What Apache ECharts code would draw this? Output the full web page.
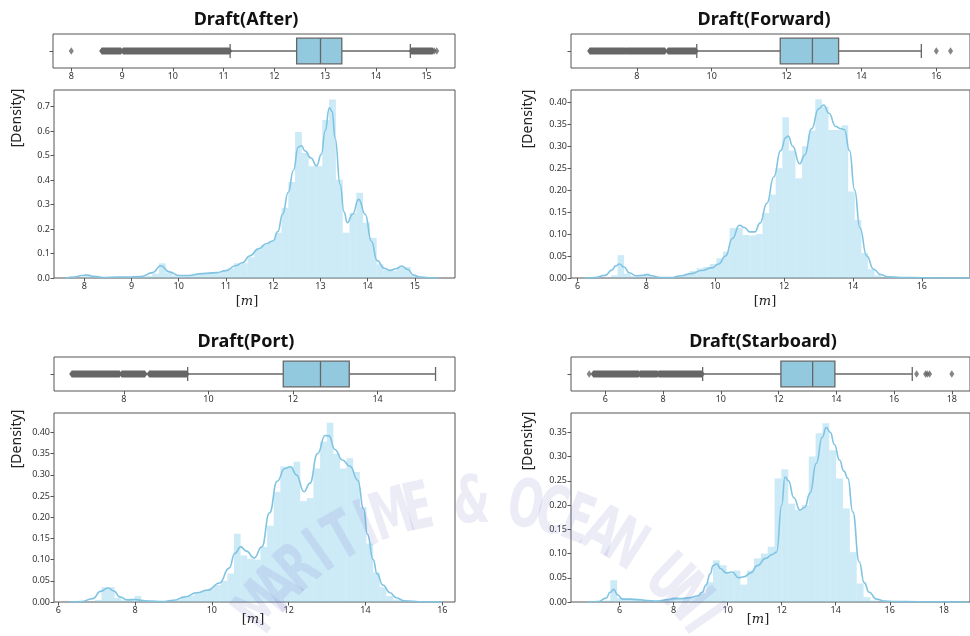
<!DOCTYPE html>
<html>
<head>
<meta charset="utf-8">
<script src="https://cdn.jsdelivr.net/npm/echarts@6/dist/echarts.min.js"></script>
<style>
  html, body { margin: 0; padding: 0; background: #fff; }
  #chart { width: 970px; height: 636px; }
</style>
</head>
<body>
<div id="chart"></div>
<script>
// ---------------- Draft(After) ----------------
const afterBinStart = 8.0;
const afterBinWidth = 0.144;
const afterDensity = [0.015, 0.003, 0.001, 0.001, 0.002, 0.004, 0.005, 0.003, 0.005, 0.008,
  0.018, 0.060, 0.022, 0.010, 0.008, 0.010, 0.015, 0.020, 0.020, 0.022,
  0.028, 0.040, 0.060, 0.060, 0.085, 0.115, 0.135, 0.150, 0.185, 0.287,
  0.392, 0.596, 0.511, 0.457, 0.457, 0.645, 0.729, 0.402, 0.185, 0.266,
  0.348, 0.226, 0.164, 0.056, 0.035, 0.030, 0.045, 0.045, 0.012, 0.003];
const afterKdeX = [7.6, 7.8, 7.95, 8.05, 8.2, 8.4, 8.7, 8.9, 9.2, 9.45, 9.62, 9.8, 10.0, 10.2, 10.5, 10.8, 11.0, 11.2, 11.35, 11.5,
  11.7, 11.85, 12.0, 12.1, 12.2, 12.32, 12.43, 12.53, 12.6, 12.67, 12.8, 12.92, 13.02, 13.1, 13.19, 13.25, 13.31, 13.42, 13.5, 13.57,
  13.68, 13.81, 13.95, 14.08, 14.2, 14.35, 14.48, 14.6, 14.72, 14.85, 14.97, 15.1, 15.3, 15.5];
const afterKdeY = [0, 0.004, 0.01, 0.012, 0.007, 0.002, 0.004, 0.004, 0.006, 0.022, 0.05, 0.025, 0.01, 0.01, 0.018, 0.022, 0.03, 0.05, 0.062, 0.09,
  0.12, 0.14, 0.152, 0.19, 0.26, 0.35, 0.44, 0.535, 0.54, 0.52, 0.49, 0.458, 0.505, 0.6, 0.695, 0.68, 0.573, 0.382, 0.27, 0.226,
  0.26, 0.321, 0.26, 0.15, 0.071, 0.04, 0.031, 0.038, 0.049, 0.035, 0.012, 0.004, 0.001, 0];
const afterBox = [11.13, 12.44, 12.91, 13.33, 14.68];      // whisker low, Q1, median, Q3, whisker high
const afterFliers = [8.0, 15.15, 15.2];
const afterFlierRuns = [[8.6, 8.98], [9.02, 11.12], [14.7, 15.12]];
const afterBoxTicks = [8, 9, 10, 11, 12, 13, 14, 15];
const afterHistTicks = [8, 9, 10, 11, 12, 13, 14, 15];
const afterDensityTicks = [0, 0.1, 0.2, 0.3, 0.4, 0.5, 0.6, 0.7];

// ---------------- Draft(Forward) ----------------
const forwardBinStart = 6.78;
const forwardBinWidth = 0.1914;
const forwardDensity = [0.001, 0.006, 0.052, 0.010, 0.004, 0.003, 0.010, 0.003, 0.002, 0.001,
  0.002, 0.004, 0.010, 0.016, 0.022, 0.025, 0.032, 0.045, 0.060, 0.114,
  0.114, 0.098, 0.097, 0.100, 0.148, 0.190, 0.250, 0.366, 0.290, 0.227,
  0.300, 0.336, 0.407, 0.390, 0.337, 0.337, 0.348, 0.197, 0.132, 0.057,
  0.020, 0.006, 0.002, 0.001, 0.0005, 0, 0, 0, 0.0005, 0.0005];
const forwardKdeX = [6.2, 6.5, 6.8, 7.0, 7.1, 7.22, 7.35, 7.5, 7.7, 7.9, 8.02, 8.15, 8.4, 8.7, 9.0, 9.3, 9.6, 9.9, 10.1, 10.3,
  10.5, 10.7, 10.85, 11.0, 11.15, 11.3, 11.5, 11.7, 11.9, 12.05, 12.12, 12.25, 12.45, 12.6, 12.8, 13.0, 13.15, 13.3, 13.5, 13.65,
  13.75, 13.9, 14.05, 14.2, 14.4, 14.6, 14.8, 15.0, 15.4, 16.0, 16.5, 17.4];
const forwardKdeY = [0, 0.001, 0.006, 0.018, 0.027, 0.032, 0.025, 0.012, 0.005, 0.006, 0.008, 0.005, 0.001, 0.001, 0.005, 0.01, 0.017, 0.023, 0.032, 0.05,
  0.09, 0.12, 0.115, 0.105, 0.105, 0.125, 0.17, 0.23, 0.29, 0.32, 0.323, 0.3, 0.26, 0.28, 0.34, 0.385, 0.394, 0.375, 0.345, 0.34,
  0.338, 0.29, 0.2, 0.115, 0.05, 0.02, 0.008, 0.003, 0.001, 0.0005, 0.0003, 0];
const forwardBox = [9.6, 11.83, 12.69, 13.39, 15.6];
const forwardFliers = [16.0, 16.38];
const forwardFlierRuns = [[6.74, 7.7], [7.72, 8.75], [8.83, 9.58]];
const forwardBoxTicks = [8, 10, 12, 14, 16];
const forwardHistTicks = [6, 8, 10, 12, 14, 16];
const forwardDensityTicks = [0, 0.05, 0.10, 0.15, 0.20, 0.25, 0.30, 0.35, 0.40];

// ---------------- Draft(Port) ----------------
const portBinStart = 6.78;
const portBinWidth = 0.1725;
const portDensity = [0.001, 0.005, 0.035, 0.035, 0.010, 0.004, 0.005, 0.014, 0.004, 0.002,
  0.001, 0.002, 0.003, 0.006, 0.010, 0.015, 0.022, 0.025, 0.030, 0.040,
  0.050, 0.067, 0.161, 0.110, 0.102, 0.100, 0.130, 0.180, 0.260, 0.320,
  0.320, 0.331, 0.238, 0.245, 0.315, 0.378, 0.423, 0.350, 0.315, 0.339,
  0.307, 0.224, 0.138, 0.070, 0.035, 0.014, 0.006, 0.002, 0.001, 0.001];
const portKdeX = [6.3, 6.6, 6.9, 7.1, 7.3, 7.45, 7.6, 7.8, 8.0, 8.15, 8.4, 8.7, 9.0, 9.3, 9.6, 9.9, 10.2, 10.45, 10.6, 10.75,
  10.9, 11.1, 11.3, 11.5, 11.7, 11.9, 12.05, 12.2, 12.4, 12.55, 12.75, 12.95, 13.05, 13.2, 13.4, 13.6, 13.8, 13.95, 14.05, 14.2,
  14.3, 14.45, 14.64, 14.8, 15.0, 15.5, 16.0];
const portKdeY = [0, 0.001, 0.008, 0.025, 0.033, 0.026, 0.012, 0.005, 0.006, 0.004, 0.002, 0.001, 0.004, 0.012, 0.022, 0.028, 0.045, 0.08, 0.115, 0.13,
  0.12, 0.104, 0.13, 0.21, 0.285, 0.315, 0.319, 0.3, 0.26, 0.28, 0.35, 0.393, 0.392, 0.36, 0.335, 0.32, 0.287, 0.22, 0.16, 0.1,
  0.067, 0.04, 0.022, 0.01, 0.003, 0.0005, 0];
const portBox = [9.51, 11.77, 12.65, 13.33, 15.37];
const portFliers = [];
const portFlierRuns = [[6.77, 7.9], [7.95, 8.5], [8.6, 9.49]];
const portBoxTicks = [8, 10, 12, 14];
const portHistTicks = [6, 8, 10, 12, 14, 16];
const portDensityTicks = [0, 0.05, 0.10, 0.15, 0.20, 0.25, 0.30, 0.35, 0.40];

// ---------------- Draft(Starboard) ----------------
const starboardBinStart = 5.40;
const starboardBinWidth = 0.2534;
const starboardDensity = [0.003, 0.045, 0.008, 0.006, 0.006, 0.005, 0.003, 0.002, 0.003, 0.006,
  0.010, 0.008, 0.008, 0.012, 0.018, 0.041, 0.086, 0.076, 0.059, 0.065,
  0.036, 0.065, 0.090, 0.100, 0.114, 0.255, 0.274, 0.203, 0.190, 0.200,
  0.300, 0.348, 0.369, 0.313, 0.255, 0.193, 0.103, 0.038, 0.010, 0.003,
  0.001, 0.0005, 0, 0, 0, 0.0005, 0.0005, 0, 0, 0.0003];
const starboardKdeX = [4.8, 5.2, 5.5, 5.65, 5.78, 5.92, 6.1, 6.4, 6.7, 7.0, 7.4, 7.8, 8.0, 8.3, 8.6, 8.9, 9.05, 9.2, 9.35, 9.46,
  9.6, 9.73, 9.95, 10.16, 10.41, 10.6, 10.85, 11.1, 11.4, 11.65, 11.81, 12.0, 12.12, 12.25, 12.45, 12.67, 12.85, 13.05, 13.28, 13.5,
  13.65, 13.8, 13.95, 14.14, 14.3, 14.45, 14.63, 14.87, 15.05, 15.24, 15.5, 15.8, 16.2, 17.0, 18.0, 18.9];
const starboardKdeY = [0, 0.001, 0.008, 0.02, 0.026, 0.015, 0.006, 0.006, 0.005, 0.003, 0.002, 0.005, 0.007, 0.007, 0.009, 0.013, 0.02, 0.035, 0.058, 0.075,
  0.079, 0.069, 0.06, 0.062, 0.05, 0.052, 0.06, 0.075, 0.09, 0.098, 0.103, 0.2, 0.258, 0.25, 0.215, 0.19, 0.195, 0.225, 0.286, 0.34,
  0.36, 0.35, 0.325, 0.293, 0.27, 0.255, 0.186, 0.083, 0.04, 0.02, 0.006, 0.002, 0.001, 0.0005, 0.0003, 0];
const starboardBox = [9.37, 12.08, 13.18, 13.95, 16.63];
const starboardFliers = [5.44, 16.78, 17.09, 17.15, 17.23, 18.0];
const starboardFlierRuns = [[5.58, 7.15], [7.2, 7.8], [7.85, 9.35]];
const starboardBoxTicks = [6, 8, 10, 12, 14, 16, 18];
const starboardHistTicks = [6, 8, 10, 12, 14, 16, 18];
const starboardDensityTicks = [0, 0.05, 0.10, 0.15, 0.20, 0.25, 0.30, 0.35];

// faint institutional watermark lettering along an arc
const watermarkText = 'MARITIME & OCEAN UNI';

// ---------------- styling ----------------
const FRAME = '#555555';
const TICK_TEXT = '#333333';
const BOX_FILL = '#93c9de';
const BOX_EDGE = '#666666';
const HIST_FILL = 'rgba(135, 206, 235, 0.42)';
const KDE_LINE = '#80c4e2';
const LABEL_FONT = '"Noto Sans", "DejaVu Sans", sans-serif';

// layout of the four panels (box strip on top, density plot below)
const panels = [
  { title: 'Draft(After)', titleAt: [246, 20], yLabelAt: [17, 118], xLabelAt: [247, 302],
    box: { left: 53, top: 34, width: 402, height: 34, min: 7.64, max: 15.56 },
    hist: { left: 54, top: 90, width: 401, height: 188, min: 7.36, max: 15.85, ymax: 0.768, dec: 1 },
    binStart: afterBinStart, binWidth: afterBinWidth, density: afterDensity,
    kdeX: afterKdeX, kdeY: afterKdeY, stats: afterBox, fliers: afterFliers, runs: afterFlierRuns,
    boxTicks: afterBoxTicks, histTicks: afterHistTicks, densityTicks: afterDensityTicks },
  { title: 'Draft(Forward)', titleAt: [764, 20], yLabelAt: [528, 119], xLabelAt: [765, 302],
    box: { left: 571, top: 34, width: 402, height: 34, min: 6.24, max: 16.90 },
    hist: { left: 571, top: 90, width: 402, height: 188, min: 5.81, max: 17.40, ymax: 0.428, dec: 2 },
    binStart: forwardBinStart, binWidth: forwardBinWidth, density: forwardDensity,
    kdeX: forwardKdeX, kdeY: forwardKdeY, stats: forwardBox, fliers: forwardFliers, runs: forwardFlierRuns,
    boxTicks: forwardBoxTicks, histTicks: forwardHistTicks, densityTicks: forwardDensityTicks },
  { title: 'Draft(Port)', titleAt: [246, 342], yLabelAt: [17, 439], xLabelAt: [253, 620],
    box: { left: 54, top: 357, width: 401, height: 34, min: 6.35, max: 15.83 },
    hist: { left: 54, top: 413, width: 401, height: 189, min: 5.89, max: 16.33, ymax: 0.446, dec: 2 },
    binStart: portBinStart, binWidth: portBinWidth, density: portDensity,
    kdeX: portKdeX, kdeY: portKdeY, stats: portBox, fliers: portFliers, runs: portFlierRuns,
    boxTicks: portBoxTicks, histTicks: portHistTicks, densityTicks: portDensityTicks },
  { title: 'Draft(Starboard)', titleAt: [763, 342], yLabelAt: [528, 441], xLabelAt: [758, 620],
    box: { left: 571, top: 357, width: 402, height: 34, min: 4.81, max: 18.63 },
    hist: { left: 571, top: 413, width: 402, height: 189, min: 4.20, max: 18.97, ymax: 0.39, dec: 2 },
    binStart: starboardBinStart, binWidth: starboardBinWidth, density: starboardDensity,
    kdeX: starboardKdeX, kdeY: starboardKdeY, stats: starboardBox, fliers: starboardFliers, runs: starboardFlierRuns,
    boxTicks: starboardBoxTicks, histTicks: starboardHistTicks, densityTicks: starboardDensityTicks }
];

function tickLabel() {
  return { fontFamily: LABEL_FONT, fontSize: 9, color: TICK_TEXT, margin: 4 };
}

function valueXAxis(gridIndex, min, max, ticks) {
  return {
    type: 'value', gridIndex, min, max,
    axisLine: { show: false },
    axisTick: { show: true, length: 3.5, customValues: ticks, lineStyle: { color: FRAME, width: 1 } },
    axisLabel: Object.assign(tickLabel(), { customValues: ticks }),
    splitLine: { show: false }
  };
}

// histogram bars: one rect per bin, from its left to right edge
function renderBin(params, api) {
  const p0 = api.coord([api.value(0), 0]);
  const p1 = api.coord([api.value(1), api.value(2)]);
  return {
    type: 'rect',
    shape: { x: p0[0], y: p1[1], width: p1[0] - p0[0], height: p0[1] - p1[1] },
    style: { fill: HIST_FILL }
  };
}

// horizontal box with whiskers and short caps
function renderBox(params, api) {
  const y = api.coord([api.value(0), 0])[1];
  const px = i => api.coord([api.value(i), 0])[0];
  const lo = px(0), q1 = px(1), md = px(2), q3 = px(3), hi = px(4);
  const hb = 12.8, hc = 7;
  const ls = { stroke: BOX_EDGE, lineWidth: 1.3 };
  return {
    type: 'group',
    children: [
      { type: 'line', shape: { x1: lo, y1: y, x2: q1, y2: y }, style: ls },
      { type: 'line', shape: { x1: q3, y1: y, x2: hi, y2: y }, style: ls },
      { type: 'line', shape: { x1: lo, y1: y - hc, x2: lo, y2: y + hc }, style: ls },
      { type: 'line', shape: { x1: hi, y1: y - hc, x2: hi, y2: y + hc }, style: ls },
      { type: 'rect', shape: { x: q1, y: y - hb, width: q3 - q1, height: 2 * hb },
        style: { fill: BOX_FILL, stroke: BOX_EDGE, lineWidth: 1.3 } },
      { type: 'line', shape: { x1: md, y1: y - hb, x2: md, y2: y + hb }, style: ls }
    ]
  };
}

// a stretch of overlapping diamond fliers drawn as one elongated diamond band
function renderRun(params, api) {
  const a = api.coord([api.value(0), 0]);
  const b = api.coord([api.value(1), 0]);
  const y = a[1], h = 3.6, w = 2.6;
  return {
    type: 'polygon',
    shape: { points: [[a[0] - w, y], [a[0], y - h], [b[0], y - h], [b[0] + w, y], [b[0], y + h], [a[0], y + h]] },
    style: { fill: '#666666' }
  };
}

const grid = [], xAxis = [], yAxis = [], series = [], graphic = [];

panels.forEach((p, i) => {
  const gBox = 2 * i, gHist = 2 * i + 1;
  grid.push({ show: true, borderColor: FRAME, borderWidth: 1, backgroundColor: 'transparent',
    left: p.box.left, top: p.box.top, width: p.box.width, height: p.box.height });
  grid.push({ show: true, borderColor: FRAME, borderWidth: 1, backgroundColor: 'transparent',
    left: p.hist.left, top: p.hist.top, width: p.hist.width, height: p.hist.height });

  xAxis.push(valueXAxis(gBox, p.box.min, p.box.max, p.boxTicks));
  xAxis.push(valueXAxis(gHist, p.hist.min, p.hist.max, p.histTicks));

  yAxis.push({
    type: 'category', gridIndex: gBox, data: [''],
    axisLine: { show: false },
    axisTick: { show: true, alignWithLabel: true, length: 3.5, lineStyle: { color: FRAME } },
    axisLabel: { show: false }, splitLine: { show: false }
  });
  yAxis.push({
    type: 'value', gridIndex: gHist, min: 0, max: p.hist.ymax,
    axisLine: { show: false },
    axisTick: { show: true, length: 3.5, customValues: p.densityTicks, lineStyle: { color: FRAME, width: 1 } },
    axisLabel: Object.assign(tickLabel(), { customValues: p.densityTicks, formatter: v => v.toFixed(p.hist.dec) }),
    splitLine: { show: false }
  });

  const bins = p.density.map((v, k) => [p.binStart + k * p.binWidth, p.binStart + (k + 1) * p.binWidth, v]);
  series.push({
    type: 'custom', xAxisIndex: gHist, yAxisIndex: gHist, clip: true,
    renderItem: renderBin, encode: { x: [0, 1], y: 2 }, data: bins, silent: true, z: 2
  });
  series.push({
    type: 'line', xAxisIndex: gHist, yAxisIndex: gHist,
    data: p.kdeX.map((x, k) => [x, p.kdeY[k]]),
    smooth: 0.5, smoothMonotone: 'x', showSymbol: false, clip: true, silent: true,
    lineStyle: { color: KDE_LINE, width: 1.6 }, z: 3
  });

  series.push({
    type: 'custom', xAxisIndex: gBox, yAxisIndex: gBox, clip: true,
    renderItem: renderRun, encode: { x: [0, 1], y: 2 },
    data: p.runs.map(r => [r[0], r[1], 0]), silent: true, z: 3
  });
  series.push({
    type: 'custom', xAxisIndex: gBox, yAxisIndex: gBox, clip: true,
    renderItem: renderBox, encode: { x: [0, 1, 2, 3, 4], y: 5 },
    data: [p.stats.concat([0])], silent: true, z: 4
  });
  series.push({
    type: 'scatter', xAxisIndex: gBox, yAxisIndex: gBox,
    data: p.fliers.map(x => [x, 0]), symbol: 'diamond', symbolSize: [5, 7.5],
    itemStyle: { color: '#666666' }, silent: true, z: 5
  });

  graphic.push({
    type: 'text', x: p.titleAt[0], y: p.titleAt[1],
    style: { text: p.title, font: 'bold 18px ' + LABEL_FONT, fill: '#111111', align: 'center', verticalAlign: 'middle' }
  });
  graphic.push({
    type: 'text', x: p.yLabelAt[0], y: p.yLabelAt[1], rotation: Math.PI / 2,
    style: { text: '[Density]', font: '14px ' + LABEL_FONT, fill: '#222222', align: 'center', verticalAlign: 'middle' }
  });
  graphic.push({
    type: 'text', x: p.xLabelAt[0], y: p.xLabelAt[1],
    style: {
      text: '{b|[}{m|m}{b|]}', align: 'center', verticalAlign: 'middle',
      rich: {
        b: { fontFamily: '"DejaVu Serif", serif', fontSize: 13, fill: '#222222' },
        m: { fontFamily: '"DejaVu Serif", serif', fontStyle: 'italic', fontSize: 13, fill: '#222222' }
      }
    }
  });
});

// watermark letters placed one by one on an arc, each turned along the arc
const wmCenter = [478, 777], wmRadius = 272, wmFrom = -142, wmTo = -35;
const wmChars = watermarkText.split('');
wmChars.forEach((ch, k) => {
  if (ch === ' ') return;
  const deg = wmFrom + (wmTo - wmFrom) * k / (wmChars.length - 1);
  const rad = deg * Math.PI / 180;
  graphic.push({
    type: 'text', silent: true, z: 50,
    x: wmCenter[0] + wmRadius * Math.cos(rad),
    y: wmCenter[1] + wmRadius * Math.sin(rad),
    rotation: -(rad + Math.PI / 2),
    scaleX: 0.7,
    style: {
      text: ch, font: 'bold 66px "DejaVu Sans Condensed", "Liberation Sans Narrow", sans-serif',
      fill: 'rgba(110, 110, 190, 0.13)', align: 'center', verticalAlign: 'middle'
    }
  });
});

const chart = echarts.init(document.getElementById('chart'), null, { renderer: 'canvas' });
chart.setOption({
  animation: false,
  backgroundColor: '#ffffff',
  grid, xAxis, yAxis, series, graphic
});
</script>
</body>
</html>
